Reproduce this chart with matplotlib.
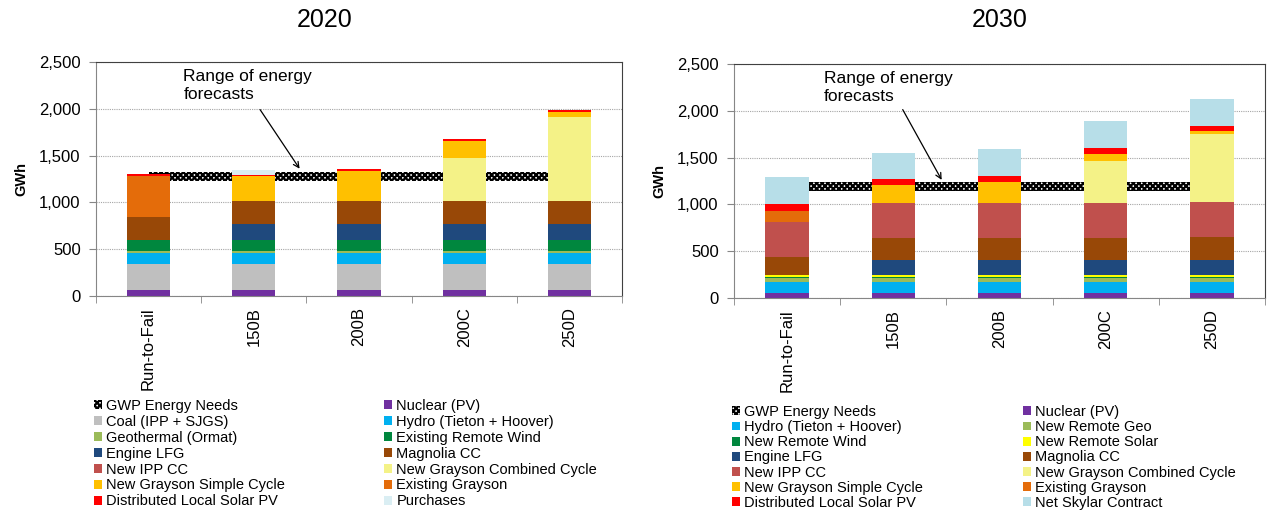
import numpy as np
import matplotlib
matplotlib.use('Agg')
import matplotlib.pyplot as plt
from matplotlib.patches import Patch

plt.rcParams['font.family'] = ['Liberation Sans', 'DejaVu Sans']
plt.rcParams['hatch.linewidth'] = 1.6

categories = ['Run-to-Fail', '150B', '200B', '200C', '250D']

# 2020 resource stack (GWh)
nuclear_2020 = [64, 64, 64, 64, 64]
coal_2020 = [280, 280, 280, 280, 280]
hydro_2020 = [120, 120, 120, 120, 120]
geo_2020 = [17, 17, 17, 17, 17]
wind_2020 = [121, 121, 121, 121, 121]
lfg_2020 = [0, 171, 171, 171, 171]
magnolia_2020 = [240, 240, 240, 240, 240]
ipp_2020 = [0, 0, 0, 0, 0]
grayson_cc_2020 = [0, 0, 0, 461, 899]
grayson_sc_2020 = [0, 269, 322, 182, 54]
exist_grayson_2020 = [436, 0, 0, 0, 0]
dls_2020 = [22, 8, 22, 18, 18]
purchases_2020 = [0, 53, 0, 0, 0]
gwp_low_2020 = [1232, 1232, 1232, 1232, 1232]
gwp_high_2020 = [1325, 1325, 1325, 1325, 1325]

# 2030 resource stack (GWh)
nuclear_2030 = [50, 50, 50, 50, 50]
hydro_2030 = [121, 121, 121, 121, 121]
geo_2030 = [43, 43, 43, 43, 43]
wind_2030 = [13, 13, 13, 13, 13]
solar_2030 = [14, 14, 14, 14, 14]
lfg_2030 = [0, 162, 162, 162, 160]
magnolia_2030 = [198, 240, 240, 240, 248]
ipp_2030 = [375, 375, 375, 375, 375]
grayson_cc_2030 = [0, 0, 0, 446, 725]
grayson_sc_2030 = [0, 185, 225, 79, 30]
exist_grayson_2030 = [118, 0, 0, 0, 0]
dls_2030 = [68, 65, 64, 60, 58]
skylar_2030 = [289, 282, 286, 290, 290]
gwp_low_2030 = [1145, 1145, 1145, 1145, 1145]
gwp_high_2030 = [1237, 1237, 1237, 1237, 1237]

C = {
    'Nuclear (PV)': '#7030A0',
    'Coal (IPP + SJGS)': '#BFBFBF',
    'Hydro (Tieton + Hoover)': '#00B0F0',
    'Geothermal (Ormat)': '#9BBB59',
    'New Remote Geo': '#9BBB59',
    'Existing Remote Wind': '#00873E',
    'New Remote Wind': '#00873E',
    'New Remote Solar': '#FFFF00',
    'Engine LFG': '#1F497D',
    'Magnolia CC': '#984807',
    'New IPP CC': '#C0504D',
    'New Grayson Combined Cycle': '#F4F287',
    'New Grayson Simple Cycle': '#FFC000',
    'Existing Grayson': '#E46C0A',
    'Distributed Local Solar PV': '#FF0000',
    'Purchases': '#DAEEF3',
    'Net Skylar Contract': '#B7DEE8',
}

series_2020 = [
    ('Nuclear (PV)', nuclear_2020),
    ('Coal (IPP + SJGS)', coal_2020),
    ('Hydro (Tieton + Hoover)', hydro_2020),
    ('Geothermal (Ormat)', geo_2020),
    ('Existing Remote Wind', wind_2020),
    ('Engine LFG', lfg_2020),
    ('Magnolia CC', magnolia_2020),
    ('New IPP CC', ipp_2020),
    ('New Grayson Combined Cycle', grayson_cc_2020),
    ('New Grayson Simple Cycle', grayson_sc_2020),
    ('Existing Grayson', exist_grayson_2020),
    ('Distributed Local Solar PV', dls_2020),
    ('Purchases', purchases_2020),
]
series_2030 = [
    ('Nuclear (PV)', nuclear_2030),
    ('Hydro (Tieton + Hoover)', hydro_2030),
    ('New Remote Geo', geo_2030),
    ('New Remote Wind', wind_2030),
    ('New Remote Solar', solar_2030),
    ('Engine LFG', lfg_2030),
    ('Magnolia CC', magnolia_2030),
    ('New IPP CC', ipp_2030),
    ('New Grayson Combined Cycle', grayson_cc_2030),
    ('New Grayson Simple Cycle', grayson_sc_2030),
    ('Existing Grayson', exist_grayson_2030),
    ('Distributed Local Solar PV', dls_2030),
    ('Net Skylar Contract', skylar_2030),
]

W, H = 1268, 512
fig = plt.figure(figsize=(W / 100, H / 100), dpi=100)


def px(x0, y0, x1, y1):
    return [x0 / W, 1 - y1 / H, (x1 - x0) / W, (y1 - y0) / H]


def draw(ax, series, low, high, txt_xy, arr_from, arr_to):
    x = np.arange(len(categories))
    ax.set_axisbelow(True)
    ax.yaxis.grid(True, color='#a6a6a6', linestyle=(0, (1, 1)), linewidth=0.8)
    ax.fill_between(x, low, high, facecolor='white', edgecolor='black',
                    hatch='xxxxxx', linewidth=0, zorder=1)
    bottom = np.zeros(len(categories))
    for name, vals in series:
        ax.bar(x, vals, 0.41, bottom=bottom, color=C[name], linewidth=0, zorder=2)
        bottom += np.array(vals)
    ax.set_xlim(-0.5, 4.5)
    ax.set_ylim(0, 2500)
    ax.set_yticks(range(0, 2501, 500))
    ax.set_yticklabels(['{:,}'.format(v) for v in range(0, 2501, 500)], fontsize=12)
    ax.set_xticks(x)
    ax.set_xticklabels(categories, rotation=90, fontsize=12)
    ax.set_xticks(np.arange(-0.5, 5, 1), minor=True)
    ax.tick_params(axis='x', which='major', length=0, pad=8)
    ax.tick_params(axis='x', which='minor', length=5, color='#868686')
    ax.tick_params(axis='y', length=5, color='#868686', pad=6)
    for s in ['left', 'bottom']:
        ax.spines[s].set_color('#868686')
    for s in ['top', 'right']:
        ax.spines[s].set_color('#404040')
    ax.set_ylabel('GWh', fontsize=10.5, fontweight='bold', labelpad=8)
    ax.text(txt_xy[0], txt_xy[1], 'Range of energy\nforecasts', fontsize=12.5,
            va='top', ha='left', linespacing=1.25)
    ax.annotate('', xy=arr_to, xytext=arr_from,
                arrowprops=dict(arrowstyle='->', color='black', lw=0.9))


def legend(series, x_left, x_right, y_top, spacing):
    items = [Patch(facecolor='white', edgecolor='black', hatch='xxxxxx', linewidth=0)]
    labels = ['GWP Energy Needs']
    for name, vals in series:
        items.append(Patch(facecolor=C[name], linewidth=0))
        labels.append(name)
    for col, xl in ((0, x_left), (1, x_right)):
        fig.legend(items[col::2], labels[col::2], loc='upper left',
                   bbox_to_anchor=(xl / W, 1 - y_top / H), frameon=False,
                   fontsize=10.5, handlelength=0.55, handleheight=0.55,
                   handletextpad=0.3, labelspacing=spacing, borderpad=0,
                   borderaxespad=0)


ax1 = fig.add_axes(px(96, 62, 622, 296))
draw(ax1, series_2020, gwp_low_2020, gwp_high_2020, (0.33, 2420), (1.045, 2016), (1.45, 1335))
ax2 = fig.add_axes(px(734, 64, 1265, 298))
draw(ax2, series_2030, gwp_low_2030, gwp_high_2030, (0.345, 2420), (1.076, 2039), (1.468, 1236))

fig.text(325 / W, 1 - 20 / H, '2020', fontsize=18, ha='center', va='center')
fig.text(1000 / W, 1 - 20 / H, '2030', fontsize=18, ha='center', va='center')

legend(series_2020, 94, 384, 399, 0.13)
legend(series_2030, 732, 1023, 405, 0.08)

fig.savefig('out.png', dpi=100)
